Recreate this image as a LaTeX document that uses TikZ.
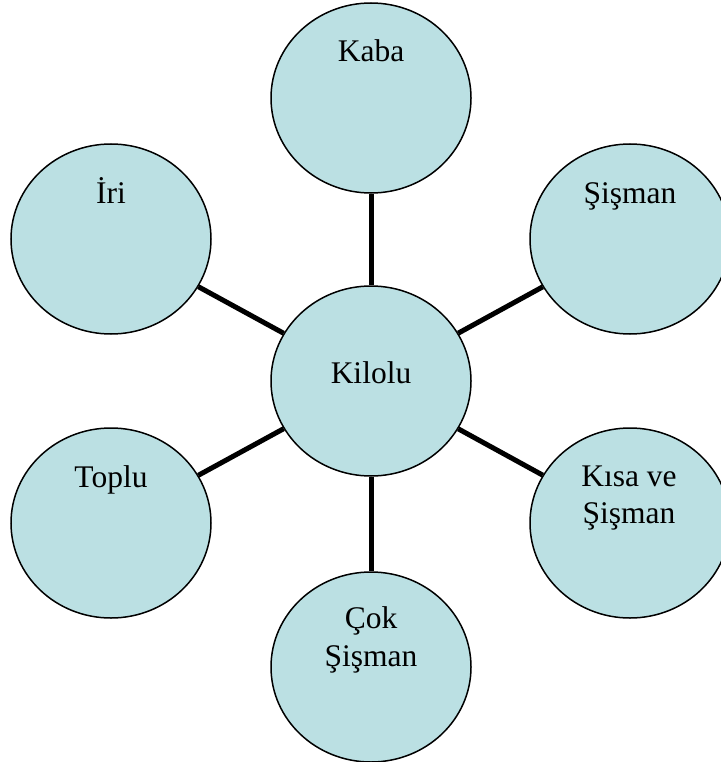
\documentclass[tikz,border=0pt]{standalone}
\usepackage{fontspec}
\setmainfont{Liberation Serif}
\usetikzlibrary{shapes.geometric}
\definecolor{bubble}{HTML}{BBE0E3}
\tikzset{
  bubble/.style={ellipse, draw=black, line width=1.5pt, fill=bubble, minimum width=200pt, minimum height=190pt, inner sep=0pt},
  lbl/.style={anchor=base, align=center, inner sep=0pt, font=\fontsize{31.5}{37}\selectfont},
  link/.style={line width=5pt, draw=black}
}
\begin{document}
\begin{tikzpicture}[x=1pt,y=-1pt]
\useasboundingbox (0,0) rectangle (720,762);
\node[bubble] (kilolu) at (371,381) {};
\node[bubble] (kaba) at (371,98) {};
\node[bubble] (sisman) at (630,239) {};
\node[bubble] (iri) at (111,239) {};
\node[bubble] (toplu) at (111,523) {};
\node[bubble] (kisa) at (630,523) {};
\node[bubble] (cok) at (371,667) {};
\draw[link] (kilolu) -- (kaba);
\draw[link] (kilolu) -- (sisman);
\draw[link] (kilolu) -- (iri);
\draw[link] (kilolu) -- (toplu);
\draw[link] (kilolu) -- (kisa);
\draw[link] (kilolu) -- (cok);
\node[lbl] (kiloluT) at (371,383) {Kilolu};
\node[lbl] (kabaT) at (371,62) {Kaba};
\node[lbl] (sismanT) at (630,203) {Şişman};
\node[lbl] (iriT) at (111,203) {İri};
\node[lbl] (topluT) at (111,487) {Toplu};
\node[lbl, anchor=base] (kisaT) at (629,486) {Kısa ve};
\node[lbl] (kisaT2) at (629,523) {Şişman};
\node[lbl] (cokT) at (371,628) {Çok};
\node[lbl] (cokT2) at (371,666) {Şişman};
\end{tikzpicture}
\end{document}
